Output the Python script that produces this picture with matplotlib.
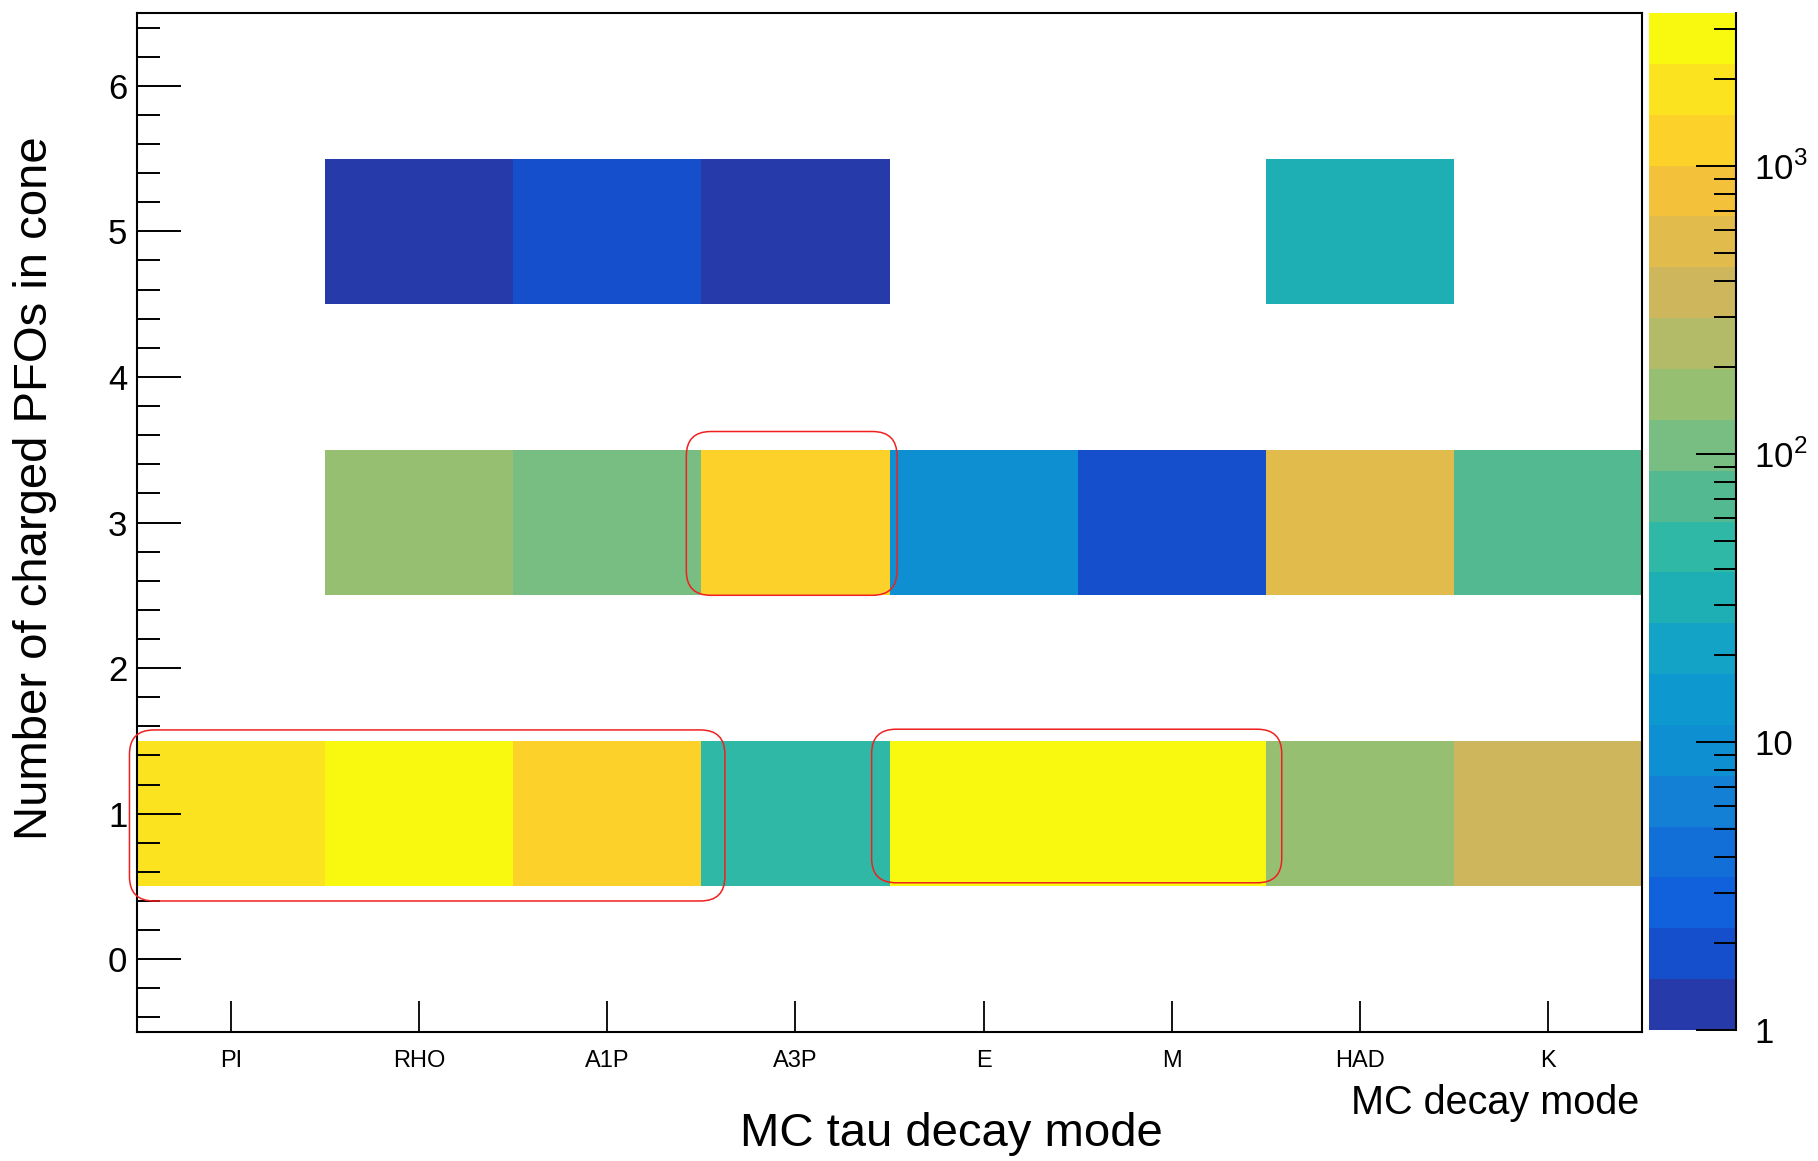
import numpy as np
import matplotlib
matplotlib.use('Agg')
from matplotlib import pyplot as plt
from matplotlib.colors import ListedColormap, BoundaryNorm
from matplotlib.patches import FancyBboxPatch
from matplotlib.ticker import MultipleLocator, FixedLocator, FixedFormatter, LogLocator, NullFormatter

plt.rcParams['font.family'] = ['Liberation Sans', 'DejaVu Sans']
plt.rcParams['mathtext.fontset'] = 'custom'
plt.rcParams['mathtext.rm'] = 'Liberation Sans'

# MC tau decay modes (x bins) and number of charged PFOs in the cone (y bins)
decay_modes = ['PI', 'RHO', 'A1P', 'A3P', 'E', 'M', 'HAD', 'K']
n_pfo_bins = [0, 1, 2, 3, 4, 5, 6]

# entries per decay mode, one list per PFO multiplicity (0 = empty bin)
counts_1pfo = [1600, 3400, 1200, 47, 2400, 2350, 160, 360]
counts_3pfo = [0, 160, 106, 1200, 9, 2, 535, 71]
counts_5pfo = [0, 1, 2, 1, 0, 0, 31, 0]
z_max = 3400

# highlighted groups: (x0, x1, y0, y1) in bin units
highlight_boxes = [
    (-0.04, 3.125, 0.40, 1.575),
    (2.92, 4.04, 2.50, 3.625),
    (3.905, 6.085, 0.525, 1.58),
]

# bird palette, 20 contour levels
band_colors = ['#263aa9', '#164fcc', '#1261dc', '#126fd8', '#1380d5',
               '#0e8fd2', '#0d98cf', '#12a3c6', '#1eafb5', '#2fb8a6',
               '#53b990', '#78bd81', '#97bf71', '#b3bb69', '#cdb65b',
               '#e1bb4b', '#f4c13a', '#fcd12a', '#fbe31f', '#f9f90f']
cmap = ListedColormap(band_colors)
levels = np.logspace(0, np.log10(z_max), len(band_colors) + 1)
norm = BoundaryNorm(levels, cmap.N)

hist = np.zeros((len(n_pfo_bins), len(decay_modes)))
hist[1] = counts_1pfo
hist[3] = counts_3pfo
hist[5] = counts_5pfo
hist = np.ma.masked_less_equal(hist, 0)

x_edges = np.arange(len(decay_modes) + 1)
y_edges = np.arange(len(n_pfo_bins) + 1) - 0.5

fig = plt.figure(figsize=(18.18, 11.61), dpi=100)
ax = fig.add_axes([137 / 1818, 129 / 1161, 1505 / 1818, 1019 / 1161])
cax = fig.add_axes([1649 / 1818, 131 / 1161, 87 / 1818, 1017 / 1161])

mesh = ax.pcolormesh(x_edges, y_edges, hist, cmap=cmap, norm=norm,
                     edgecolors='none', antialiased=False)

ax.set_xlim(0, len(decay_modes))
ax.set_ylim(-0.5, 6.5)
ax.set_xticks(np.arange(len(decay_modes)) + 0.5)
ax.set_xticklabels(decay_modes)
ax.yaxis.set_major_locator(MultipleLocator(1))
ax.yaxis.set_minor_locator(MultipleLocator(0.2))
ax.tick_params(axis='x', which='major', direction='in', length=22, width=1.3,
               labelsize=17, pad=13, top=False)
ax.tick_params(axis='y', which='major', direction='in', length=32, width=1.4,
               labelsize=25, pad=7, right=False)
ax.tick_params(axis='y', which='minor', direction='in', length=16.5, width=1.4,
               right=False)
for spine in ax.spines.values():
    spine.set_linewidth(1.5)

for x0, x1, y0, y1 in highlight_boxes:
    box = FancyBboxPatch((x0, y0), x1 - x0, y1 - y0,
                         boxstyle='round,pad=0,rounding_size=0.13',
                         mutation_aspect=1.29, fill=False,
                         edgecolor='#f02020', linewidth=1.1,
                         clip_on=False, zorder=5)
    ax.add_patch(box)

cbar = fig.colorbar(mesh, cax=cax, boundaries=levels, spacing='proportional')
cbar.outline.set_visible(False)
cax.set_yscale('log')
cax.set_ylim(1, z_max)
cax.yaxis.set_major_locator(FixedLocator([1, 10, 100, 1000]))
cax.yaxis.set_major_formatter(FixedFormatter(['1', '10', '$10^{2}$', '$10^{3}$']))
cax.yaxis.set_minor_locator(LogLocator(base=10, subs=np.arange(2, 10)))
cax.yaxis.set_minor_formatter(NullFormatter())
cax.yaxis.set_ticks_position('right')
cax.tick_params(which='major', direction='in', length=29, width=1.4,
                labelsize=25, pad=13)
cax.tick_params(which='minor', direction='in', length=16, width=1.4)
cax.plot([1, 1], [0, 1], transform=cax.transAxes, color='black',
         linewidth=1.5, clip_on=False)

fig.text(1639 / 1818, 1 - 1103 / 1161, 'MC decay mode', fontsize=28.5,
         ha='right', va='center')
fig.text(951 / 1818, 1 - 1134 / 1161, 'MC tau decay mode', fontsize=34,
         ha='center', va='center')
fig.text(35 / 1818, 1 - 488 / 1161, 'Number of charged PFOs in cone',
         fontsize=34, rotation=90, ha='center', va='center')

fig.savefig('out.png', dpi=100)
